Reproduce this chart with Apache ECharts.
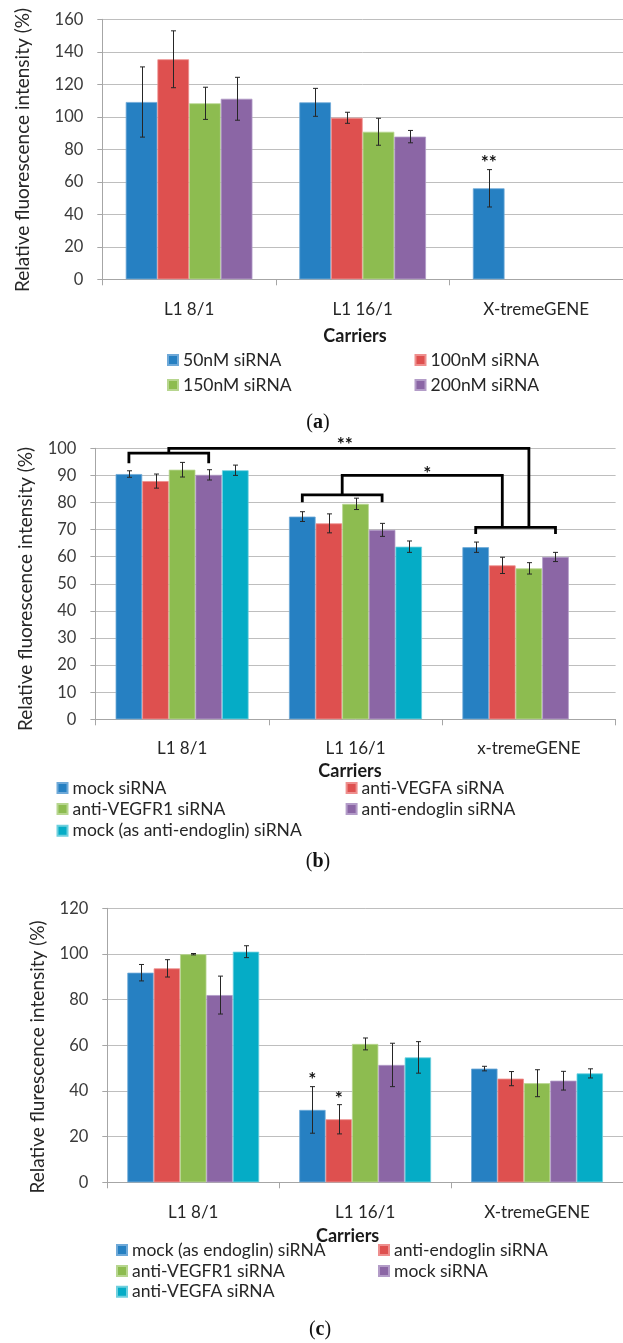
<!DOCTYPE html>
<html><head><meta charset="utf-8">
<script src="https://cdn.jsdelivr.net/npm/echarts@6/dist/echarts.min.js"></script>
<style>
html,body{margin:0;padding:0;background:#fff;overflow:hidden;width:623px;height:1343px}
.c{position:absolute;left:0;width:623px}
</style></head><body>
<div id="ca" class="c" style="top:0px;height:440px"></div>
<div id="cb" class="c" style="top:420px;height:460px"></div>
<div id="cc" class="c" style="top:860px;height:483px"></div>
<script>
// ---------------- DATA ----------------
// (a)
const catsA = ['L1 8/1', 'L1 16/1', 'X-tremeGENE'];
const namesA = ['50nM siRNA', '100nM siRNA', '150nM siRNA', '200nM siRNA'];
const a50 = [109.1, 108.9, 56.0];   const a50Err = [21.6, 8.6, 11.5];
const a100 = [135.4, 99.4, null];   const a100Err = [17.5, 3.4, null];
const a150 = [108.3, 90.8, null];   const a150Err = [9.9, 8.3, null];
const a200 = [111.1, 87.8, null];   const a200Err = [13.2, 3.8, null];
const yTicksA = [0, 20, 40, 60, 80, 100, 120, 140, 160];
const starsA = [[2, 0, 74.5]];          // [category, bar slot, y]
const starTextA = ['**'];

// (b)
const catsB = ['L1 8/1', 'L1 16/1', 'x-tremeGENE'];
const namesB = ['mock siRNA', 'anti-VEGFA siRNA', 'anti-VEGFR1 siRNA', 'anti-endoglin siRNA', 'mock (as anti-endoglin) siRNA'];
const bMock = [90.5, 74.8, 63.5];      const bMockErr = [1.2, 1.8, 1.9];
const bVEGFA = [87.9, 72.3, 56.8];     const bVEGFAErr = [2.6, 3.5, 3.0];
const bVEGFR1 = [92.1, 79.5, 55.7];    const bVEGFR1Err = [2.7, 2.1, 2.1];
const bEndo = [90.2, 69.9, 59.9];      const bEndoErr = [1.9, 2.4, 1.7];
const bMockEndo = [91.9, 63.7, null];  const bMockEndoErr = [1.9, 2.1, null];
const yTicksB = [0, 10, 20, 30, 40, 50, 60, 70, 80, 90, 100];
// significance brackets: [category, fromSlot, toSlot, barY, legY]
const bBrackets = [[0, 0, 3, 98.2, 94.5], [1, 0, 3, 82.8, 80.1], [2, 0, 3, 70.8, 68.4]];
// links: [fromCat, fromSlot, fromY, peakY, toCat, toSlot, toY]
const bLinks = [[0, 1.5, 98.2, 100, 2, 2, 70.8], [1, 1.5, 82.8, 90, 2, 1, 70.8]];
const starsB = [[1, 1.6, 103.0], [1, 4.7, 92.4]];
const starTextB = ['**', '*'];

// (c)
const catsC = ['L1 8/1', 'L1 16/1', 'X-tremeGENE'];
const namesC = ['mock (as endoglin) siRNA', 'anti-endoglin siRNA', 'anti-VEGFR1 siRNA', 'mock siRNA', 'anti-VEGFA siRNA'];
const cMockEndo = [91.8, 31.7, 49.8];  const cMockEndoErr = [3.6, 10.2, 1.0];
const cEndo = [93.7, 27.6, 45.4];      const cEndoErr = [3.8, 6.4, 3.1];
const cVEGFR1 = [99.9, 60.6, 43.4];    const cVEGFR1Err = [0.3, 2.6, 5.9];
const cMock = [82.0, 51.4, 44.5];      const cMockErr = [8.3, 9.5, 4.1];
const cVEGFA = [101.0, 54.7, 47.7];    const cVEGFAErr = [2.6, 6.9, 2.0];
const yTicksC = [0, 20, 40, 60, 80, 100, 120];
const starsC = [[1, 0, 47.0], [1, 1, 38.8]];
const starTextC = ['*', '*'];

// ---------------- STYLE ----------------
const FONT = 'Lato, "Open Sans", sans-serif';
const COLORS5 = ['#2680C2', '#DE504F', '#8DBC50', '#8B66A5', '#05ACC6'];
const BORDERS5 = ['#6FA9D8', '#EE8F8E', '#B7D68F', '#B39CC8', '#6FD0DE'];
const GRID_C = '#BEBEBE', AXIS_C = '#A6A6A6';

function errData(vals, errs, slot) {
  const out = [];
  vals.forEach((v, i) => { if (v != null && errs[i] != null) out.push([i, slot, v - errs[i], v + errs[i]]); });
  return out;
}

function slotX(api, cat, slot, n, gap) {
  const band = api.size([1, 0])[0];
  const bw = band * (1 - gap) / n;
  return api.coord([cat, 0])[0] + (slot - (n - 1) / 2) * bw;
}

function errorSeries(data, n, gap) {
  return {
    type: 'custom', silent: true, z: 5, data: data, encode: { x: 0, y: [2, 3] },
    renderItem(params, api) {
      const cat = api.value(0), slot = api.value(1);
      const x = Math.round(slotX(api, cat, slot, n, gap)) + 0.5;
      const y1 = api.coord([cat, api.value(2)])[1], y2 = api.coord([cat, api.value(3)])[1];
      const st = { stroke: '#262626', lineWidth: 1 };
      const cap = 2.5;
      return { type: 'group', children: [
        { type: 'line', shape: { x1: x, y1: y1, x2: x, y2: y2 }, style: st },
        { type: 'line', shape: { x1: x - cap, y1: y1, x2: x + cap, y2: y1 }, style: st },
        { type: 'line', shape: { x1: x - cap, y1: y2, x2: x + cap, y2: y2 }, style: st }
      ] };
    }
  };
}

function starSeries(stars, texts, n, gap) {
  return {
    type: 'custom', silent: true, z: 6, data: stars, encode: { x: 0, y: 2 },
    renderItem(params, api) {
      const cat = api.value(0);
      const x = slotX(api, cat, api.value(1), n, gap);
      const y = api.coord([cat, api.value(2)])[1];
      return { type: 'text', x: x, y: y + 5, style: {
        text: texts[params.dataIndex], fill: '#111', align: 'center', verticalAlign: 'middle',
        font: 'bold 19px ' + FONT } };
    }
  };
}

function bracketSeries(brackets, links, n, gap) {
  const polys = [];
  brackets.forEach(b => {
    const [c, s0, s1, y, leg] = b;
    polys.push([c, s0, leg, c, s0, y, c, s1, y, c, s1, leg]);
  });
  links.forEach(l => {
    const [fc, fs, fy, py, tc, ts, ty] = l;
    polys.push([fc, fs, fy, fc, fs, py, tc, ts, py, tc, ts, ty]);
  });
  return {
    type: 'custom', silent: true, z: 6, data: polys, encode: { x: 0, y: 2 },
    renderItem(params, api) {
      const pts = [];
      for (let k = 0; k < 4; k++) {
        const c = api.value(k * 3), s = api.value(k * 3 + 1), v = api.value(k * 3 + 2);
        pts.push([slotX(api, c, s, n, gap), api.coord([c, v])[1]]);
      }
      return { type: 'polyline', shape: { points: pts }, style: { stroke: '#000', lineWidth: 2.8, fill: null, lineJoin: 'miter' } };
    }
  };
}

function build(el, top, cfg) {
  const chart = echarts.init(document.getElementById(el), null, { renderer: 'canvas' });
  const n = cfg.names.length;
  const series = [];
  cfg.values.forEach((vals, i) => {
    series.push({
      type: 'bar', name: cfg.names[i], data: vals, barGap: '0%', barCategoryGap: (cfg.gap * 100) + '%',
      itemStyle: { color: COLORS5[i], borderColor: BORDERS5[i], borderWidth: 0.8 }, z: 2
    });
  });
  cfg.values.forEach((vals, i) => series.push(errorSeries(errData(vals, cfg.errs[i], i), n, cfg.gap)));
  if (cfg.stars) series.push(starSeries(cfg.stars, cfg.starText, n, cfg.gap));
  if (cfg.brackets) series.push(bracketSeries(cfg.brackets, cfg.links, n, cfg.gap));

  const legends = cfg.names.map((nm, i) => ({
    data: [nm], left: cfg.legendPos[i][0], top: cfg.legendPos[i][1] - top - 10, padding: 0,
    itemWidth: 10, itemHeight: 10, icon: 'rect', selectedMode: false,
    textStyle: { fontFamily: FONT, fontSize: 17.5, color: '#262626', lineHeight: 20 }
  }));
  const g = cfg.grid;
  const ticks = cfg.yTicks;
  chart.setOption({
    animation: false,
    backgroundColor: 'transparent',
    grid: { left: g[0], top: g[1] - top, width: g[2], height: g[3] },
    legend: legends,
    xAxis: {
      type: 'category', data: cfg.cats,
      axisLine: { lineStyle: { color: AXIS_C, width: 1 } },
      axisTick: { show: true, length: 6, lineStyle: { color: AXIS_C } },
      axisLabel: { margin: cfg.catMargin, fontFamily: FONT, fontSize: 17, color: '#262626' },
      splitLine: { show: false }
    },
    yAxis: {
      type: 'value', min: ticks[0], max: ticks[ticks.length - 1], interval: ticks[1] - ticks[0],
      axisLine: { show: true, lineStyle: { color: AXIS_C, width: 1 } },
      axisTick: { show: true, length: 5, lineStyle: { color: AXIS_C } },
      axisLabel: { margin: 19, fontFamily: FONT, fontSize: 16.5, color: '#3a3a3a' },
      splitLine: { lineStyle: { color: GRID_C, width: 1 } }
    },
    graphic: [
      { type: 'text', x: cfg.yTitlePos[0], y: cfg.yTitlePos[1] - top, rotation: Math.PI / 2,
        style: { text: cfg.yTitle, align: 'center', verticalAlign: 'middle', font: '19px ' + FONT, fill: '#262626' } },
      { type: 'text', x: cfg.xTitlePos[0], y: cfg.xTitlePos[1] - top,
        style: { text: 'Carriers', align: 'center', verticalAlign: 'middle', font: 'bold 18px ' + FONT, fill: '#1a1a1a' } },
      { type: 'text', x: cfg.panelPos[0], y: cfg.panelPos[1] - top,
        style: { text: '({b|' + cfg.panel + '})', align: 'center', verticalAlign: 'middle',
          font: '20px "Liberation Serif", serif', fill: '#111',
          rich: { b: { fontWeight: 'bold', fontSize: 20, fontFamily: '"Liberation Serif", serif' } } } }
    ],
    series: series
  });
}

build('ca', 0, {
  cats: catsA, names: namesA,
  values: [a50, a100, a150, a200], errs: [a50Err, a100Err, a150Err, a200Err],
  yTicks: yTicksA, gap: 0.27,
  grid: [102.3, 19.3, 534, 260],
  catMargin: 22,
  stars: starsA, starText: starTextA,
  legendPos: [[167, 360], [414.5, 360], [167, 385], [414.5, 385]],
  yTitle: 'Relative fluorescence intensity (%)', yTitlePos: [22.5, 150],
  xTitlePos: [355, 336], panel: 'a', panelPos: [318, 423]
});

build('cb', 420, {
  cats: catsB, names: namesB,
  values: [bMock, bVEGFA, bVEGFR1, bEndo, bMockEndo], errs: [bMockErr, bVEGFAErr, bVEGFR1Err, bEndoErr, bMockEndoErr],
  yTicks: yTicksB, gap: 0.233,
  grid: [95.4, 448.3, 520.2, 271],
  catMargin: 21,
  stars: starsB, starText: starTextB,
  brackets: bBrackets, links: bLinks,
  legendPos: [[56.5, 788], [345.6, 788], [56.5, 809], [345.6, 809], [56.5, 830.7]],
  yTitle: 'Relative fluorescence intensity (%)', yTitlePos: [25.8, 589],
  xTitlePos: [350, 771], panel: 'b', panelPos: [318, 862]
});

build('cc', 860, {
  cats: catsC, names: namesC,
  values: [cMockEndo, cEndo, cVEGFR1, cMock, cVEGFA], errs: [cMockEndoErr, cEndoErr, cVEGFR1Err, cMockErr, cVEGFAErr],
  yTicks: yTicksC, gap: 0.233,
  grid: [107.3, 908.3, 517.2, 274],
  catMargin: 22,
  stars: starsC, starText: starTextC,
  legendPos: [[116, 1250], [378, 1250], [116, 1271], [378, 1271], [116, 1291.7]],
  yTitle: 'Relative flurescence intensity (%)', yTitlePos: [37.7, 1057],
  xTitlePos: [347.6, 1236], panel: 'c', panelPos: [320, 1330]
});
</script>
</body></html>
